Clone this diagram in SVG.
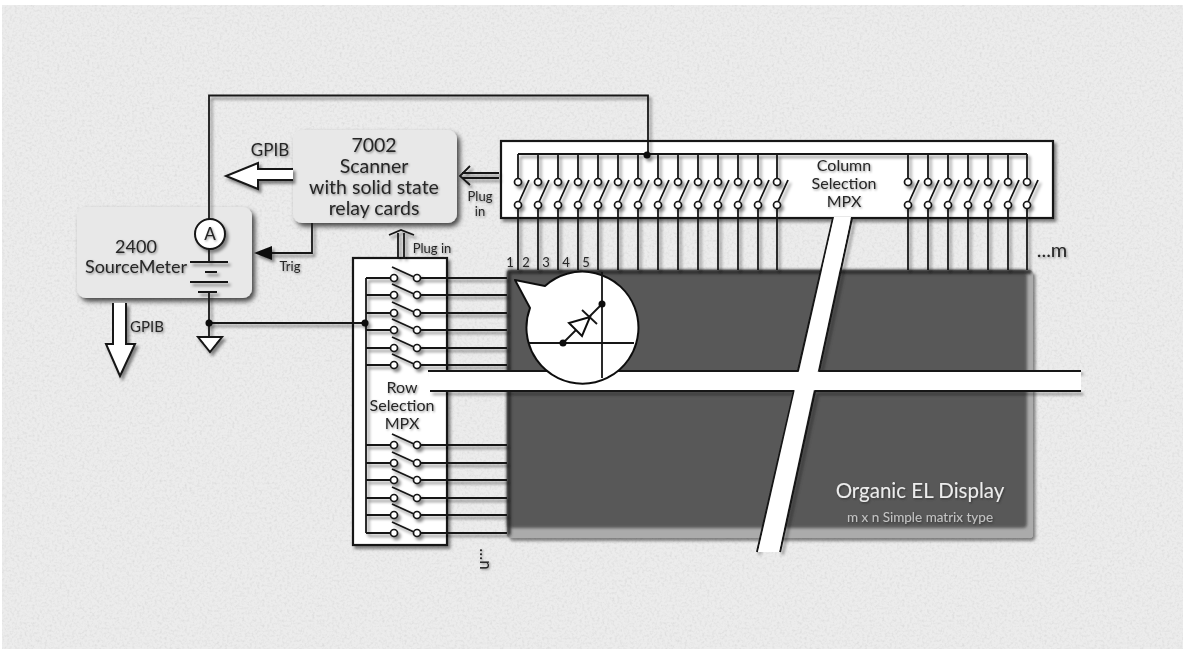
<svg xmlns="http://www.w3.org/2000/svg" width="1183" height="649" viewBox="0 0 1183 649">
<style>
.w{fill:none;stroke:#151515;stroke-width:1.800}
.c{fill:#fff;stroke:#151515;stroke-width:1.700}
.box{fill:#fff;stroke:#151515;stroke-width:2.200}
.inst{fill:#e8e8e8}
.d{fill:#0c0c0c}
.arrow{fill:#fff;stroke:#151515;stroke-width:2;stroke-linejoin:miter}
text{font-family:"Lato","Open Sans","Liberation Sans",sans-serif;fill:#262626;text-anchor:middle}
.t{font-size:13px}
.m{font-size:16px}
.lab{font-size:19.500px}
</style>
<defs>
<filter id="paper" x="0" y="0" width="100%" height="100%">
<feTurbulence type="fractalNoise" baseFrequency="0.4" numOctaves="2" seed="4" result="n"/>
<feColorMatrix in="n" type="matrix" values="0 0 0 0 0  0 0 0 0 0  0 0 0 0 0  0.2 0.2 0 0 -0.18"/>
<feComposite in2="SourceGraphic" operator="in" result="g"/>
<feMerge><feMergeNode in="SourceGraphic"/><feMergeNode in="g"/></feMerge>
</filter>
<filter id="sh" x="-10%" y="-10%" width="125%" height="125%"><feDropShadow dx="2.500" dy="3" stdDeviation="1.800" flood-color="#000" flood-opacity="0.45"/></filter>
<filter id="shb" x="-15%" y="-15%" width="130%" height="130%"><feDropShadow dx="3" dy="3.500" stdDeviation="2.600" flood-color="#000" flood-opacity="0.7"/></filter>
<filter id="ts" x="-10%" y="-20%" width="120%" height="140%"><feDropShadow dx="1" dy="1.200" stdDeviation="0.900" flood-color="#000" flood-opacity="0.4"/></filter>
<filter id="b1" x="-5%" y="-5%" width="110%" height="110%"><feGaussianBlur stdDeviation="1.600"/></filter>
<filter id="soft" x="-5%" y="-5%" width="110%" height="110%"><feGaussianBlur stdDeviation="0.450"/></filter>
<g id="cs">
<path class="w" d="M0 154V179M0 208V270M1 202L11 180"/>
<circle class="c" cy="182" r="3.500"/><circle class="c" cy="205" r="3.500"/>
</g>
<g id="rs">
<path class="w" d="M366 0H391M420 0H507M392 -11L414 -1"/>
<circle class="c" cx="394" r="3.500"/><circle class="c" cx="417" r="3.500"/>
</g>
</defs>
<rect id="margin" width="1183" height="649" fill="#fff"/>
<rect id="background" x="2" y="5" width="1181" height="644" fill="#ececec" filter="url(#paper)"/>
<g filter="url(#soft)">
<g id="display">
<rect x="507" y="270" width="526" height="268" rx="4" fill="#ababab" filter="url(#sh)"/>
<rect x="507" y="270" width="520" height="258" rx="4" fill="#585858" filter="url(#b1)"/>
<path d="M509 535V272H1031" fill="none" stroke="#262626" stroke-width="3.500" filter="url(#b1)"/>
<g filter="url(#ts)">
<text x="920" y="498" style="font-size:20.500px;fill:#ececec">Organic EL Display</text>
<text x="920" y="522" class="t" style="font-size:13.500px;fill:#c4c4c4">m x n Simple matrix type</text>
</g>
</g>
<g id="column-mpx">
<rect class="box" x="501" y="141" width="552" height="77" filter="url(#sh)"/>
<g filter="url(#ts)">
<text class="m" x="844" y="171">Column</text>
<text class="m" x="844" y="189">Selection</text>
<text class="m" x="844" y="207">MPX</text>
</g>
</g>
<g id="row-mpx">
<rect class="box" x="353" y="258" width="94" height="287" filter="url(#sh)"/>
</g>
<g id="instrument-2400">
<rect class="inst" x="77" y="207" width="175" height="91" rx="9" filter="url(#shb)"/>
<g filter="url(#ts)">
<text class="lab" x="136" y="253" style="font-size:18px">2400</text>
<text class="lab" x="136" y="273" style="font-size:18px">SourceMeter</text>
</g>
</g>
<g id="scanner-7002">
<rect class="inst" x="293" y="130" width="164" height="93" rx="9" filter="url(#shb)"/>
<g filter="url(#ts)">
<text class="lab" x="374" y="152">7002</text>
<text class="lab" x="374" y="173">Scanner</text>
<text class="lab" x="374" y="194">with solid state</text>
<text class="lab" x="374" y="215">relay cards</text>
</g>
</g>
<g id="connectors" filter="url(#sh)">
<path class="w" d="M209 219V95.500H648V155M518 154H1027"/>
<path class="w" d="M366 278V533"/>
<path class="w" d="M209 249V262M190 262H228M205 272H217M190 282H228M198 292H217M209 292V337M209 323H365"/>
<path class="arrow" d="M198 337H222L210 352Z"/>
<circle class="d" cx="209" cy="323" r="3.500"/><circle class="d" cx="365" cy="323" r="3.500"/><circle class="d" cx="647" cy="155" r="3.500"/>
<circle class="c" cx="210" cy="234" r="15" style="stroke-width:2"/>
<path class="w" d="M312 223V253H272"/>
<path class="d" d="M254 253L272 246V260Z"/>
<path class="arrow" d="M293 169H258V163L226 176L258 189V180H293"/>
<path class="arrow" d="M113 303V344H106L120 376L135 344H126V303"/>
<path class="w" d="M398 258V233M404 258V233M389 235L401 230L414 235"/>
<path class="w" d="M499 173H462M499 178H462M470 166L460 176L470 185"/>
<use href="#cs" x="518"/><use href="#cs" x="538"/><use href="#cs" x="558"/><use href="#cs" x="578"/><use href="#cs" x="598"/><use href="#cs" x="618"/><use href="#cs" x="638"/><use href="#cs" x="658"/><use href="#cs" x="678"/><use href="#cs" x="698"/><use href="#cs" x="718"/><use href="#cs" x="738"/><use href="#cs" x="758"/><use href="#cs" x="777"/>
<use href="#cs" x="908"/><use href="#cs" x="928"/><use href="#cs" x="948"/><use href="#cs" x="968"/><use href="#cs" x="988"/><use href="#cs" x="1008"/><use href="#cs" x="1027"/>
<use href="#rs" y="278"/><use href="#rs" y="295"/><use href="#rs" y="313"/><use href="#rs" y="330"/><use href="#rs" y="348"/><use href="#rs" y="365"/>
<use href="#rs" y="445"/><use href="#rs" y="463"/><use href="#rs" y="480"/><use href="#rs" y="498"/><use href="#rs" y="515"/><use href="#rs" y="533"/>
</g>
<g id="strips">
<g filter="url(#sh)">
<path class="w" d="M428 371H798M819 371H1081M430 391H794M815 391H1081" style="stroke-width:2"/>
<path class="w" d="M833 218L798 371M794 391L757 552M852 218L819 371M815 391L780 552" style="stroke-width:2"/>
</g>
<rect x="429" y="372" width="652" height="18" fill="#fff"/>
<path d="M834 217H851L779 552H758Z" fill="#fff"/>
<g filter="url(#ts)">
<text class="m" x="402" y="393">Row</text>
<text class="m" x="402" y="411">Selection</text>
<text class="m" x="402" y="429">MPX</text>
</g>
</g>
<g id="pixel-callout">
<path d="M515 280L545 286A56 56 0 1 1 530 308Z" fill="#fff" stroke="#111" stroke-width="2" stroke-linejoin="round"/>
<path class="w" d="M602 272V378M529 343H634M563 343L602 304"/>
<path d="M590 317L569 323L582 336Z" fill="#fff" stroke="#111" stroke-width="2"/>
<path class="w" d="M582 310L597 324"/>
<circle class="d" cx="602" cy="304" r="3.500"/><circle class="d" cx="563" cy="343" r="3.500"/>
</g>
<g id="labels" filter="url(#ts)">
<text x="270" y="156" style="font-size:17px">GPIB</text>
<text x="147" y="332" style="font-size:15px">GPIB</text>
<text class="t" x="290" y="271">Trig</text>
<text class="t" x="432" y="253">Plug in</text>
<text class="t" x="480" y="201">Plug</text>
<text class="t" x="480" y="216">in</text>
<text class="t" x="510" y="267">1</text><text class="t" x="526" y="267">2</text><text class="t" x="546" y="267">3</text><text class="t" x="566" y="267">4</text><text class="t" x="586" y="267">5</text>
<text x="1052" y="257" style="font-size:20px">...m</text>
<text x="0" y="0" transform="translate(480 559) rotate(90)" style="font-size:17px">...n</text>
<text x="210" y="240" style="font-size:17px;font-weight:500">A</text>
</g>
</g>
</svg>
